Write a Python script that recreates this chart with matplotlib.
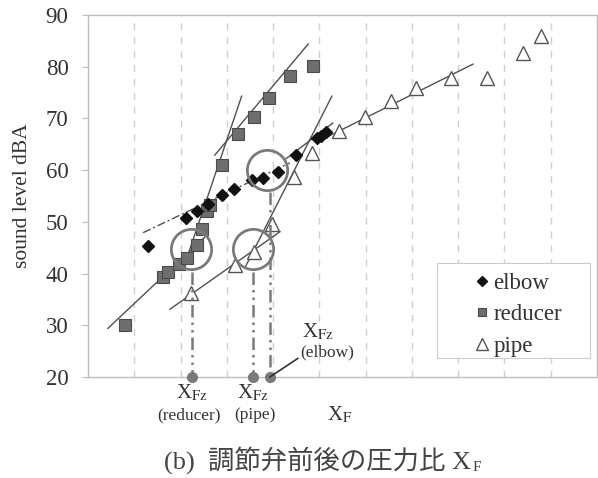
import matplotlib
matplotlib.use("Agg")
import matplotlib.pyplot as plt
from matplotlib.patches import Rectangle

plt.rcParams['font.family'] = ['Liberation Serif', 'Noto Sans CJK JP']
plt.rcParams['mathtext.fontset'] = 'stix'

# ---- data ----
elbow_x = [1.29, 2.12, 2.35, 2.59, 2.89, 3.15, 3.54, 3.78, 4.10, 4.49, 4.95, 5.03, 5.14]
elbow_y = [45.3, 50.8, 52.1, 53.4, 55.1, 56.3, 58.1, 58.5, 59.6, 62.9, 66.2, 66.6, 67.4]

reducer_x = [0.80, 1.63, 1.73, 1.97, 2.15, 2.35, 2.46, 2.57, 2.63, 2.89, 3.25, 3.59, 3.92, 4.36, 4.87]
reducer_y = [30.0, 39.4, 40.4, 41.9, 43.1, 45.5, 48.6, 52.1, 53.3, 60.9, 67.0, 70.3, 73.9, 78.3, 80.1]

pipe_x = [2.22, 3.17, 3.59, 3.97, 4.45, 4.85, 5.43, 5.98, 6.54, 7.08, 7.85, 8.62, 9.40, 9.78]
pipe_y = [36.2, 41.6, 44.2, 49.6, 58.7, 63.4, 67.6, 70.3, 73.4, 75.8, 77.9, 77.9, 82.6, 85.9]

# fitted lines (end points)
fit_reducer_low_x, fit_reducer_low_y = [0.43, 2.53], [29.4, 47.1]
fit_reducer_steep_x, fit_reducer_steep_y = [2.05, 3.32], [40.7, 74.3]
fit_reducer_up_x, fit_reducer_up_y = [2.74, 4.76], [62.9, 84.4]
fit_elbow_low_x, fit_elbow_low_y = [1.19, 4.36], [47.9, 61.4]
fit_elbow_up_x, fit_elbow_up_y = [4.25, 5.29], [62.0, 69.1]
fit_pipe_low_x, fit_pipe_low_y = [1.77, 4.15], [33.1, 48.1]
fit_pipe_steep_x, fit_pipe_steep_y = [3.39, 5.27], [41.1, 74.3]
fit_pipe_up_x, fit_pipe_up_y = [5.12, 8.32], [66.2, 80.5]

# transition points X_Fz
xfz_names = ['reducer', 'pipe', 'elbow']
xfz_x = [2.24, 3.56, 3.93]
circle_x = [2.22, 3.56, 3.86]
circle_y = [44.7, 44.7, 60.0]

yticks = [20, 30, 40, 50, 60, 70, 80, 90]

fig = plt.figure(figsize=(5.98, 4.78), dpi=100)
ax = fig.add_axes([88/598, 1-377/478, (597-88)/598, (377-15)/478])
ax.set_xlim(0, 11)
ax.set_ylim(20, 90)

for k in range(1, 11):
    ax.axvline(k, color='#cfcfcf', lw=1.0, ls=(0, (5, 5)), zorder=0)

for s in ax.spines.values():
    s.set_color('#bdbdbd')
    s.set_linewidth(1.0)

ax.set_xticks([])
ax.set_yticks(yticks)
ax.tick_params(axis='y', length=4, color='#bdbdbd', labelsize=16.5, labelcolor='#333333', pad=10)
ax.set_ylabel('sound level dBA', fontsize=15.5, color='#333333', labelpad=10)

lc = '#505050'
ax.plot(fit_reducer_low_x, fit_reducer_low_y, color=lc, lw=1.0, zorder=2)
ax.plot(fit_reducer_steep_x, fit_reducer_steep_y, color=lc, lw=1.0, zorder=2)
ax.plot(fit_reducer_up_x, fit_reducer_up_y, color=lc, lw=1.0, zorder=2)
ax.plot(fit_elbow_low_x, fit_elbow_low_y, color=lc, lw=1.0, ls=(0, (6, 2, 1.5, 2)), zorder=2)
ax.plot(fit_elbow_up_x, fit_elbow_up_y, color=lc, lw=1.0, zorder=2)
ax.plot(fit_pipe_low_x, fit_pipe_low_y, color=lc, lw=1.0, zorder=2)
ax.plot(fit_pipe_steep_x, fit_pipe_steep_y, color=lc, lw=1.0, zorder=2)
ax.plot(fit_pipe_up_x, fit_pipe_up_y, color=lc, lw=1.0, zorder=2)

ax.plot(reducer_x, reducer_y, ls='none', marker='s', ms=8, mfc='#6e6e6e', mec='#4a4a4a', mew=0.8,
        label='reducer', zorder=4)
ax.plot(elbow_x, elbow_y, ls='none', marker='D', ms=6, mfc='#111111', mec='#111111',
        label='elbow', zorder=5)
ax.plot(pipe_x, pipe_y, ls='none', marker='^', ms=10, mfc='white', mec='#555555', mew=1.0,
        label='pipe', zorder=3)

# circles and vertical drop lines
gc = '#7a7a7a'
ax.plot(circle_x, circle_y, ls='none', marker='o', ms=29, mfc='none', mec=gc, mew=2.0, zorder=6)
for cx, cy, xz in zip(circle_x, circle_y, xfz_x):
    ax.plot([xz, xz], [cy - 4.3, 20], color=gc, lw=1.8, ls=(0, (5, 2, 1, 2, 1, 2)), zorder=6)
ax.plot(xfz_x, [20] * len(xfz_x), ls='none', marker='o', ms=7, mfc=gc, mec=gc, zorder=7, clip_on=False)

# leader line for elbow
ax.plot([xfz_x[2], 4.535], [20, 23.6], color='#333333', lw=1.2, clip_on=False, zorder=7)

tcol = '#333333'
ax.text(xfz_x[0], 16.9, r'X$_{\mathrm{Fz}}$', ha='center', va='center', fontsize=15, color=tcol, clip_on=False)
ax.text(xfz_x[0] - 0.05, 12.6, '(reducer)', ha='center', va='center', fontsize=12.5, color=tcol, clip_on=False)
ax.text(xfz_x[1], 16.9, r'X$_{\mathrm{Fz}}$', ha='center', va='center', fontsize=15, color=tcol, clip_on=False)
ax.text(xfz_x[1] + 0.05, 12.6, '(pipe)', ha='center', va='center', fontsize=12.5, color=tcol, clip_on=False)
ax.text(4.97, 28.7, r'X$_{\mathrm{Fz}}$', ha='center', va='center', fontsize=15, color=tcol, clip_on=False)
ax.text(5.16, 24.8, '(elbow)', ha='center', va='center', fontsize=12.5, color=tcol, clip_on=False)
ax.text(5.45, 12.6, r'X$_{\mathrm{F}}$', ha='center', va='center', fontsize=15, color=tcol, clip_on=False)

# legend (frame drawn separately, matching the wide box of the original)
ax.add_patch(Rectangle(((437 - 88) / 509, (377 - 358) / 362), (590 - 437) / 509, (358 - 263) / 362,
                       transform=ax.transAxes, facecolor='white', edgecolor='#cccccc', lw=0.8, zorder=8))
h, l = ax.get_legend_handles_labels()
order = [l.index('elbow'), l.index('reducer'), l.index('pipe')]
leg = ax.legend([h[i] for i in order], [l[i] for i in order],
                loc='upper left', bbox_to_anchor=((468 - 88) / 509, (377 - 273) / 362),
                fontsize=16.5, frameon=False,
                borderpad=0, labelspacing=0.45, handlelength=1.2, handletextpad=-0.1,
                borderaxespad=0, markerscale=0.8)
leg.set_zorder(9)
for t in leg.get_texts():
    t.set_color(tcol)

title = fig.text(318 / 598, 1 - 460 / 478, '(b)  調節弁前後の圧力比 X', ha='center', va='center',
                 fontsize=19, color='#444444')
fig.text(0, 0, 'F', fontsize=11, color='#444444', ha='left', va='baseline')
fig.canvas.draw()
bb = title.get_window_extent()
sub = fig.texts[-1]
sub.set_position(((bb.x1 + 1) / fig.bbox.width, (bb.y0 + 3) / fig.bbox.height))

fig.savefig('out.png', dpi=100)
